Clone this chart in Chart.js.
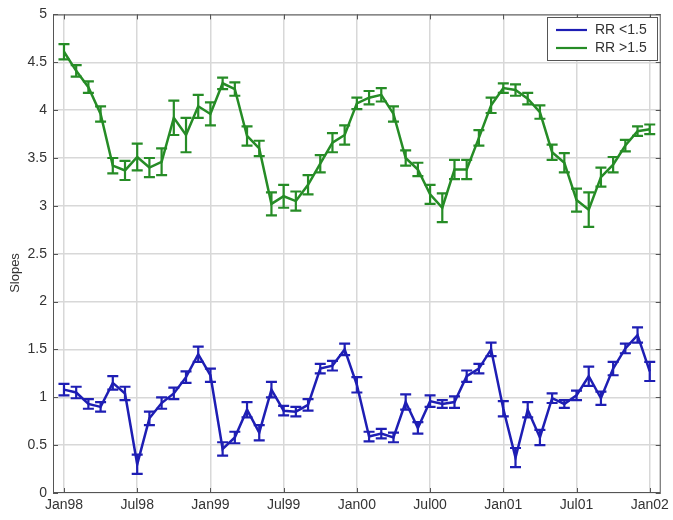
<!DOCTYPE html>
<html>
<head>
<meta charset="utf-8">
<script src="https://cdn.jsdelivr.net/npm/chart.js@4/dist/chart.umd.min.js"></script>
<style>
  html, body { margin: 0; padding: 0; background: #ffffff; }
  #wrap { width: 673px; height: 520px; }
</style>
</head>
<body>
<div id="wrap"><canvas id="c" width="673" height="520"></canvas></div>
<script>
// Monthly slope estimates, Jan 1998 .. Jan 2002 (month index 0..48)
const tickMonths = [0, 6, 12, 18, 24, 30, 36, 42, 48];
const tickLabels = ['Jan98', 'Jul98', 'Jan99', 'Jul99', 'Jan00', 'Jul00', 'Jan01', 'Jul01', 'Jan02'];
const yTicks = [0, 0.5, 1, 1.5, 2, 2.5, 3, 3.5, 4, 4.5, 5];

const seriesNames = ['RR <1.5', 'RR >1.5'];

const slopesLow = [
  1.08, 1.05, 0.93, 0.90, 1.15, 1.04, 0.30, 0.78, 0.94, 1.04, 1.21, 1.45,
  1.23, 0.46, 0.58, 0.87, 0.63, 1.08, 0.86, 0.85, 0.92, 1.30, 1.33, 1.50,
  1.13, 0.59, 0.62, 0.58, 0.95, 0.68, 0.96, 0.93, 0.95, 1.22, 1.30, 1.50,
  0.88, 0.37, 0.87, 0.58, 0.99, 0.93, 1.02, 1.22, 0.99, 1.30, 1.51, 1.65,
  1.27
];
const errLow = [
  0.06, 0.06, 0.05, 0.05, 0.07, 0.07, 0.10, 0.07, 0.06, 0.06, 0.06, 0.08,
  0.07, 0.07, 0.06, 0.08, 0.08, 0.08, 0.05, 0.05, 0.06, 0.05, 0.05, 0.06,
  0.08, 0.05, 0.05, 0.05, 0.08, 0.06, 0.06, 0.04, 0.06, 0.06, 0.05, 0.07,
  0.08, 0.10, 0.08, 0.08, 0.05, 0.04, 0.05, 0.10, 0.07, 0.07, 0.05, 0.08,
  0.10
];

const slopesHigh = [
  4.61, 4.41, 4.24, 3.96, 3.42, 3.37, 3.51, 3.40, 3.46, 3.92, 3.74, 4.04,
  3.96, 4.28, 4.22, 3.73, 3.60, 3.02, 3.10, 3.05, 3.22, 3.44, 3.66, 3.74,
  4.07, 4.13, 4.16, 3.96, 3.50, 3.38, 3.12, 2.98, 3.38, 3.38, 3.71, 4.05,
  4.23, 4.21, 4.12, 3.98, 3.56, 3.45, 3.06, 2.96, 3.30, 3.43, 3.63, 3.78,
  3.80
];
const errHigh = [
  0.08, 0.06, 0.06, 0.08, 0.08, 0.10, 0.14, 0.10, 0.14, 0.18, 0.18, 0.12,
  0.12, 0.06, 0.07, 0.10, 0.08, 0.12, 0.12, 0.10, 0.10, 0.09, 0.10, 0.10,
  0.06, 0.07, 0.07, 0.08, 0.08, 0.07, 0.10, 0.15, 0.10, 0.10, 0.08, 0.08,
  0.05, 0.06, 0.06, 0.07, 0.08, 0.10, 0.12, 0.18, 0.10, 0.08, 0.06, 0.05,
  0.05
];

const BLUE = '#1e1eb4';
const GREEN = '#268c26';
const FONT = '"Liberation Sans", Arial, sans-serif';

const toPoints = arr => arr.map((v, i) => ({ x: i, y: v }));

// Error bars, box frame with inward ticks, legend and y title
const decorations = {
  id: 'decorations',
  afterDatasetsDraw(chart) {
    const ctx = chart.ctx;
    const ys = chart.scales.y;
    const xs = chart.scales.x;
    const area = chart.chartArea;

    // error bars
    chart.data.datasets.forEach((ds, di) => {
      const meta = chart.getDatasetMeta(di);
      const errs = ds.errors;
      ctx.save();
      ctx.strokeStyle = ds.borderColor;
      ctx.lineWidth = 2.2;
      meta.data.forEach((pt, i) => {
        const v = ds.data[i].y;
        const yTop = ys.getPixelForValue(v + errs[i]);
        const yBot = ys.getPixelForValue(v - errs[i]);
        const x = pt.x;
        const cap = 5.5;
        ctx.beginPath();
        ctx.moveTo(x, yTop); ctx.lineTo(x, yBot);
        ctx.moveTo(x - cap, yTop); ctx.lineTo(x + cap, yTop);
        ctx.moveTo(x - cap, yBot); ctx.lineTo(x + cap, yBot);
        ctx.stroke();
      });
      ctx.restore();
    });

    // frame
    ctx.save();
    ctx.strokeStyle = '#555555';
    ctx.lineWidth = 1;
    ctx.strokeRect(area.left + 0.5, area.top + 0.5, area.right - area.left - 1, area.bottom - area.top - 1);

    // inward tick marks on all four sides
    const tl = 5;
    ctx.beginPath();
    yTicks.forEach(v => {
      const y = Math.round(ys.getPixelForValue(v)) + 0.5;
      ctx.moveTo(area.left, y); ctx.lineTo(area.left + tl, y);
      ctx.moveTo(area.right, y); ctx.lineTo(area.right - tl, y);
    });
    tickMonths.forEach(m => {
      const x = Math.round(xs.getPixelForValue(m)) + 0.5;
      ctx.moveTo(x, area.bottom); ctx.lineTo(x, area.bottom - tl);
      ctx.moveTo(x, area.top); ctx.lineTo(x, area.top + tl);
    });
    ctx.stroke();
    ctx.restore();

    // legend box
    ctx.save();
    const lx = 547, ly = 17, lw = 110, lh = 43;
    ctx.fillStyle = '#ffffff';
    ctx.fillRect(lx, ly, lw, lh);
    ctx.strokeStyle = '#555555';
    ctx.lineWidth = 1;
    ctx.strokeRect(lx + 0.5, ly + 0.5, lw, lh);
    ctx.font = '14px ' + FONT;
    ctx.textBaseline = 'middle';
    ctx.textAlign = 'left';
    chart.data.datasets.forEach((ds, di) => {
      const yy = ly + 13 + di * 18;
      ctx.strokeStyle = ds.borderColor;
      ctx.lineWidth = 2.2;
      ctx.beginPath();
      ctx.moveTo(lx + 9, yy); ctx.lineTo(lx + 40, yy);
      ctx.stroke();
      ctx.fillStyle = '#333333';
      ctx.fillText(ds.label, lx + 48, yy);
    });
    ctx.restore();

    // y axis title
    ctx.save();
    ctx.translate(15, 273);
    ctx.rotate(-Math.PI / 2);
    ctx.font = '13px ' + FONT;
    ctx.fillStyle = '#333333';
    ctx.textAlign = 'center';
    ctx.textBaseline = 'middle';
    ctx.fillText('Slopes', 0, 0);
    ctx.restore();
  }
};

new Chart(document.getElementById('c'), {
  type: 'line',
  data: {
    datasets: [
      { label: seriesNames[0], data: toPoints(slopesLow), errors: errLow,
        borderColor: BLUE, backgroundColor: BLUE, borderWidth: 2.5, pointRadius: 0, tension: 0, fill: false },
      { label: seriesNames[1], data: toPoints(slopesHigh), errors: errHigh,
        borderColor: GREEN, backgroundColor: GREEN, borderWidth: 2.5, pointRadius: 0, tension: 0, fill: false }
    ]
  },
  options: {
    responsive: false,
    animation: false,
    devicePixelRatio: 1,
    layout: { padding: { top: 13, right: 10, left: 0, bottom: 0 } },
    plugins: { legend: { display: false }, tooltip: { enabled: false } },
    scales: {
      x: {
        type: 'linear',
        min: -0.9,
        max: 48.9,
        afterBuildTicks: s => { s.ticks = tickMonths.map(v => ({ value: v })); },
        afterFit: s => { s.height = 27; },
        ticks: {
          autoSkip: false, maxRotation: 0, padding: 4,
          color: '#333333', font: { family: FONT, size: 14 },
          callback: v => tickLabels[tickMonths.indexOf(v)]
        },
        grid: { color: '#d8d8d8', lineWidth: 1.5, drawTicks: false },
        border: { display: false }
      },
      y: {
        min: 0,
        max: 5,
        afterBuildTicks: s => { s.ticks = yTicks.map(v => ({ value: v })); },
        afterFit: s => { s.width = 53; },
        ticks: {
          padding: 6,
          color: '#333333', font: { family: FONT, size: 14 },
          callback: v => String(v)
        },
        grid: { color: '#d8d8d8', lineWidth: 1.5, drawTicks: false },
        border: { display: false }
      }
    }
  },
  plugins: [decorations]
});
</script>
</body>
</html>
